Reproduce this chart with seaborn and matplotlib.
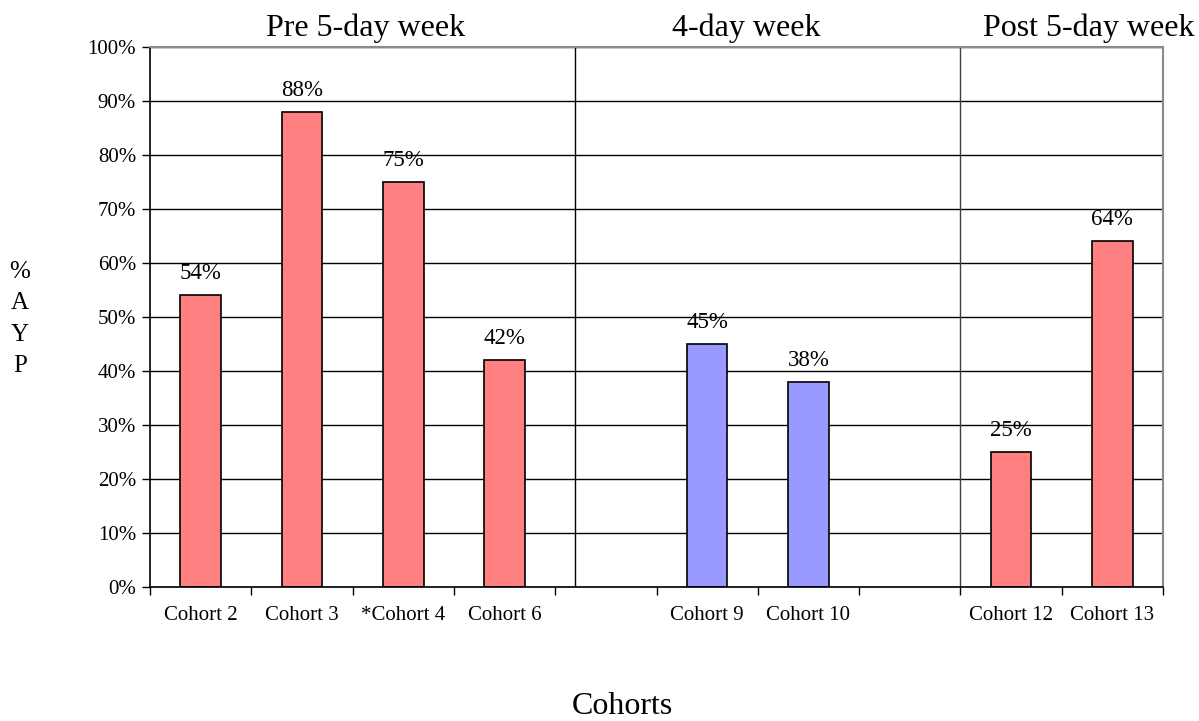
import matplotlib
matplotlib.use("Agg")
import matplotlib.pyplot as plt
import matplotlib.ticker as mticker
import seaborn as sns
import pandas as pd

# Cohort results grouped by school-week schedule
cohorts = ["Cohort 2", "Cohort 3", "*Cohort 4", "Cohort 6",
           "Cohort 9", "Cohort 10", "Cohort 12", "Cohort 13"]
ayp_pct = [54, 88, 75, 42, 45, 38, 25, 64]
schedule = ["5-day", "5-day", "5-day", "5-day",
            "4-day", "4-day", "5-day", "5-day"]
# category order on the axis, with empty slots separating the periods
slot_order = ["Cohort 2", "Cohort 3", "*Cohort 4", "Cohort 6", " ",
              "Cohort 9", "Cohort 10", "  ", "Cohort 12", "Cohort 13"]
period_titles = ["Pre 5-day week", "4-day week", "Post 5-day week"]

df = pd.DataFrame({"cohort": cohorts, "pct": ayp_pct, "schedule": schedule})

sns.set_theme(style="white")
plt.rcParams["font.family"] = ["Liberation Serif", "DejaVu Serif"]

fig = plt.figure(figsize=(11.99, 7.21), dpi=100)
ax = fig.add_axes([150 / 1199, 134 / 721, 1013 / 1199, 540 / 721])

sns.barplot(data=df, x="cohort", y="pct", hue="schedule", order=slot_order,
            palette={"5-day": "#FF8080", "4-day": "#9999FF"}, dodge=False,
            saturation=1, width=0.4, edgecolor="black", linewidth=1.2,
            legend=False, ax=ax)

ax.set_xlim(-0.5, len(slot_order) - 0.5)
ax.set_ylim(0, 100)
ax.yaxis.set_major_locator(mticker.MultipleLocator(10))
ax.yaxis.set_major_formatter(mticker.FuncFormatter(lambda v, p: f"{v:.0f}%"))

ax.grid(axis="y", color="black", linewidth=1)
ax.set_axisbelow(True)

# tick marks between categories, labels centred under bars
ax.set_xticks(range(len(slot_order)))
ax.set_xticklabels(slot_order)
ax.set_xticks([i - 0.5 for i in range(len(slot_order) + 1)], minor=True)
ax.tick_params(axis="x", which="major", length=0, pad=14, labelsize=15,
               labelcolor="black")
ax.tick_params(axis="x", which="minor", bottom=True, length=6, width=1,
               color="black")
ax.tick_params(axis="y", left=True, length=6, width=1, color="black",
               labelsize=15, labelcolor="black", pad=4)

for side in ("left", "bottom"):
    ax.spines[side].set_color("black")
    ax.spines[side].set_linewidth(1.2)
for side in ("top", "right"):
    ax.spines[side].set_color("#8a8a8a")
    ax.spines[side].set_linewidth(1.5)

# period separators
ax.axvline(3.7, color="black", linewidth=1)
ax.axvline(7.5, color="#404040", linewidth=1)

for cont in ax.containers:
    ax.bar_label(cont, fmt="%.0f%%", padding=8, fontsize=16.5, color="black")

title_x = [1.63, 5.39, 8.77]
tr = matplotlib.transforms.blended_transform_factory(ax.transData, fig.transFigure)
for x, t in zip(title_x, period_titles):
    ax.text(x, 1 - 28 / 721, t, transform=tr, ha="center", va="center",
            fontsize=23, color="black")

ax.set_xlabel("")
ax.set_ylabel("")
fig.text(622 / 1199, 1 - 706 / 721, "Cohorts", ha="center", va="center",
         fontsize=23, color="black")
fig.text(20 / 1199, 1 - 319 / 721, "%\nA\nY\nP", ha="center", va="center",
         fontsize=18, linespacing=1.55, color="black")

fig.savefig("out.png", dpi=100)
